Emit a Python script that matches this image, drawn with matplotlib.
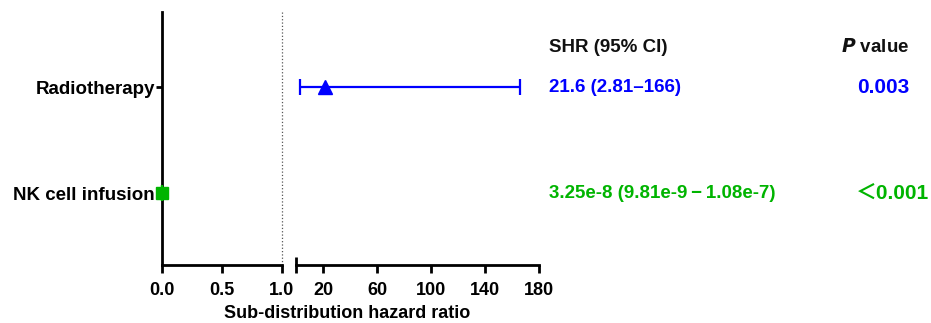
import matplotlib
matplotlib.use("Agg")
import matplotlib.pyplot as plt
import matplotlib.transforms as mtransforms
from matplotlib.ticker import FixedLocator

plt.rcParams['font.family'] = ['Liberation Sans', 'Noto Sans CJK SC', 'DejaVu Sans']
plt.rcParams['font.weight'] = 'bold'

categories = ["Radiotherapy", "NK cell infusion"]
y_pos = [2, 1]
shr = [21.6, 3.25e-8]
ci_low = [2.81, 9.81e-9]
ci_high = [166, 1.08e-7]
shr_text = ["21.6 (2.81\u2013166)", "3.25e-8 (9.81e-9\u2009\u2212\u20091.08e-7)"]
p_text = ["0.003", "\uff1c0.001"]
colors = ["#0000FF", "#00B400"]
markers = ["^", "s"]
left_ticks = [0.0, 0.5, 1.0]
left_ticklabels = ["0.0", "0.5", "1.0"]
right_ticks = [20, 60, 100, 140, 180]

W, H = 931, 323
fig = plt.figure(figsize=(W / 100, H / 100), dpi=100)

bottom = (H - 265) / H
height = 253 / H
ax1 = fig.add_axes([162 / W, bottom, 120 / W, height])
ax2 = fig.add_axes([296 / W, bottom, 243 / W, height])

ylim = (0.32, 2.71)
for ax in (ax1, ax2):
    ax.set_ylim(*ylim)
    ax.spines['top'].set_visible(False)
    ax.spines['right'].set_visible(False)
    ax.spines['bottom'].set_linewidth(2)
    ax.spines['left'].set_linewidth(2)
    ax.patch.set_alpha(0)

# Left axis (0-1)
ax1.set_xlim(0, 1.0)
ax1.set_yticks(y_pos)
ax1.set_yticklabels(categories, fontsize=13.5, fontweight='bold')
ax1.tick_params(axis='y', direction='out', length=4, width=2, pad=1)
ax1.xaxis.set_major_locator(FixedLocator(left_ticks))
ax1.set_xticklabels(left_ticklabels, fontsize=13, fontweight='bold')
ax1.tick_params(axis='x', direction='out', length=6, width=2, pad=6)
ax1.xaxis.set_minor_locator(FixedLocator([1.0]))
ax1.tick_params(axis='x', which='minor', direction='inout', length=12, width=2)
ax1.axvline(1.0, ls=':', color='#555555', lw=0.9, clip_on=False)

# Right axis (0-180)
ax2.set_xlim(0, 180)
ax2.spines['left'].set_visible(False)
ax2.set_yticks([])
ax2.xaxis.set_major_locator(FixedLocator(right_ticks))
ax2.set_xticklabels([str(t) for t in right_ticks], fontsize=13, fontweight='bold')
ax2.tick_params(axis='x', direction='out', length=6, width=2, pad=6)
ax2.xaxis.set_minor_locator(FixedLocator([0, 180]))
ax2.tick_params(axis='x', which='minor', direction='inout', length=12, width=2)

# Data
for i in range(len(categories)):
    ax = ax2 if shr[i] > 1 else ax1
    err = [[shr[i] - ci_low[i]], [ci_high[i] - shr[i]]]
    ax.errorbar([shr[i]], [y_pos[i]], xerr=err, fmt=markers[i], color=colors[i],
                ecolor=colors[i], markersize=10 if markers[i] == '^' else 9,
                elinewidth=1.6, capsize=6, capthick=1.6, clip_on=False, zorder=5)

fig.text(347 / W, 1 - 313 / H, "Sub-distribution hazard ratio",
         ha='center', va='center', fontsize=13, fontweight='bold')

# Table text
tr = mtransforms.blended_transform_factory(fig.transFigure, ax2.transData)
header_y = y_pos[0] + (87 - 47) / 106
ax2.text(549 / W, header_y, "SHR (95% CI)", transform=tr, ha='left', va='center',
         fontsize=13.5, fontweight='bold', color='#111111', clip_on=False)
ax2.text(909 / W, header_y, r"$\bf\it{P}$ value", transform=tr, ha='right', va='center',
         fontsize=13.5, fontweight='bold', color='#111111', clip_on=False)
for i in range(len(categories)):
    ax2.text(549 / W, y_pos[i], shr_text[i], transform=tr, ha='left', va='center',
             fontsize=13.5, fontweight='bold', color=colors[i], clip_on=False)
    ax2.text((909 if i == 0 else 929) / W, y_pos[i], p_text[i], transform=tr,
             ha='right', va='center', fontsize=15, fontweight='bold',
             color=colors[i], clip_on=False)

fig.savefig("out.png", dpi=100)
